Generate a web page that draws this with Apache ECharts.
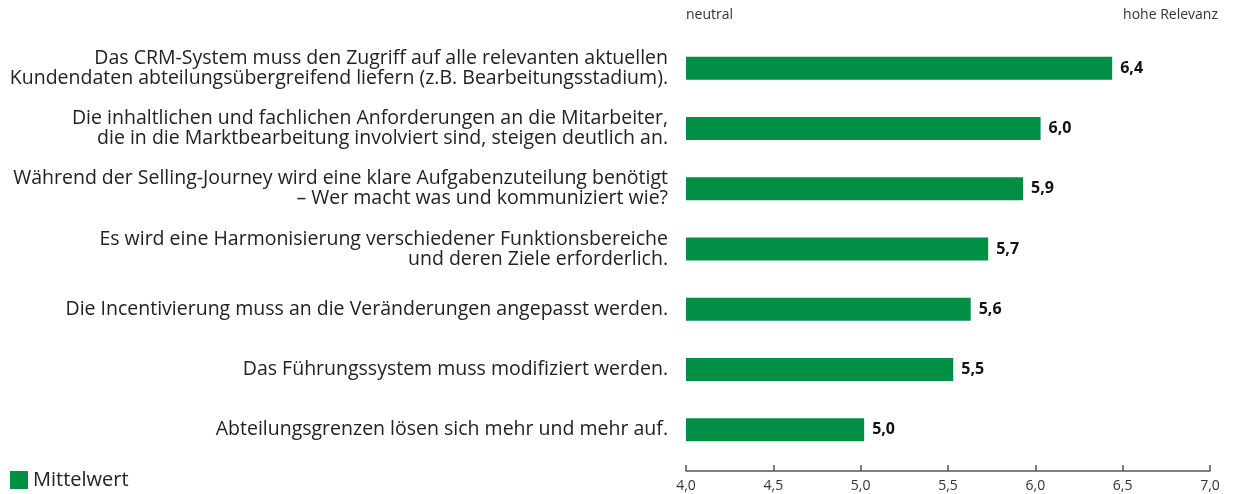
<!DOCTYPE html>
<html>
<head>
<meta charset="utf-8">
<script src="https://cdn.jsdelivr.net/npm/echarts@6/dist/echarts.min.js"></script>
<style>
  html, body { margin: 0; padding: 0; background: #fff; }
  #chart { width: 1234px; height: 494px; }
</style>
</head>
<body>
<div id="chart"></div>
<script>
// Aussagen (von oben nach unten)
var categories = [
  'Das CRM-System muss den Zugriff auf alle relevanten aktuellen\nKundendaten abteilungsübergreifend liefern (z.B. Bearbeitungsstadium).',
  'Die inhaltlichen und fachlichen Anforderungen an die Mitarbeiter,\ndie in die Marktbearbeitung involviert sind, steigen deutlich an.',
  'Während der Selling-Journey wird eine klare Aufgabenzuteilung benötigt\n– Wer macht was und kommuniziert wie?',
  'Es wird eine Harmonisierung verschiedener Funktionsbereiche\nund deren Ziele erforderlich.',
  'Die Incentivierung muss an die Veränderungen angepasst werden.',
  'Das Führungssystem muss modifiziert werden.',
  'Abteilungsgrenzen lösen sich mehr und mehr auf.'
]
var meanValues = [6.44, 6.03, 5.93, 5.73, 5.63, 5.53, 5.02]
var seriesName = 'Mittelwert'
var axisMin = 4, axisMax = 7, axisStep = 0.5

var fontFamily = '"Open Sans", "Noto Sans", sans-serif'

var chart = echarts.init(document.getElementById('chart'))

chart.setOption({
  animation: false,
  textStyle: { fontFamily: fontFamily },
  grid: { left: 686, right: 24, top: 38, bottom: 34 },
  legend: {
    data: [{ name: seriesName, icon: 'rect' }],
    left: 10,
    bottom: 4,
    padding: 0,
    itemWidth: 18,
    itemHeight: 18,
    itemGap: 6,
    textStyle: { fontSize: 20, color: '#222', fontFamily: fontFamily }
  },
  graphic: [
    {
      type: 'text', left: 686, top: 8,
      style: { text: 'neutral', fontSize: 14, fill: '#333', fontFamily: fontFamily }
    },
    {
      type: 'text', right: 16, top: 8,
      style: { text: 'hohe Relevanz', fontSize: 14, fill: '#333', fontFamily: fontFamily }
    }
  ],
  xAxis: {
    type: 'value',
    min: axisMin,
    max: axisMax,
    interval: axisStep,
    offset: 11,
    splitLine: { show: false },
    axisLine: { show: true, lineStyle: { color: '#555', width: 1.5 } },
    axisTick: { show: true, inside: true, length: 6, lineStyle: { color: '#555', width: 1.5 } },
    axisLabel: {
      fontSize: 14, color: '#333', margin: 8,
      formatter: function (v) { return v.toFixed(1).replace('.', ',') }
    }
  },
  yAxis: {
    type: 'category',
    data: categories,
    inverse: true,
    axisLine: { show: false },
    axisTick: { show: false },
    axisLabel: {
      fontSize: 19.5, color: '#222', margin: 18, lineHeight: 20, align: 'right'
    }
  },
  series: [
    {
      name: seriesName,
      type: 'bar',
      data: meanValues,
      barWidth: 23,
      itemStyle: { color: '#008f45' },
      label: {
        show: true,
        position: 'right',
        distance: 8,
        fontSize: 16,
        fontWeight: 'bold',
        color: '#111',
        formatter: function (p) { return p.value.toFixed(1).replace('.', ',') }
      }
    }
  ]
})
</script>
</body>
</html>
